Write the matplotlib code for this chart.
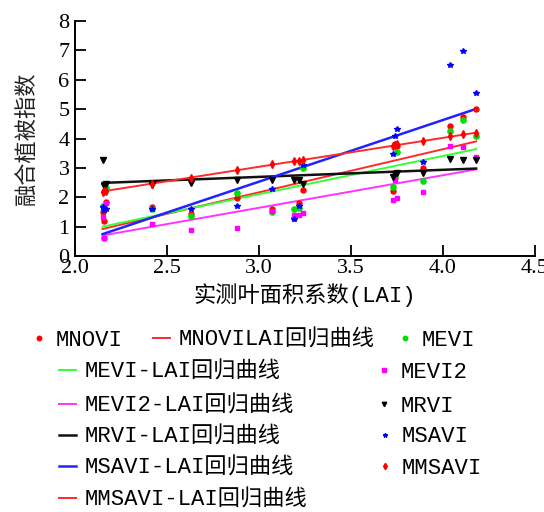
import matplotlib
matplotlib.use("Agg")
import matplotlib.pyplot as plt
from matplotlib.lines import Line2D
from matplotlib.font_manager import FontProperties
import numpy as np

# ---------------- data ----------------
LAI = [2.15, 2.16, 2.17, 2.42, 2.63, 2.88, 3.07, 3.19, 3.22, 3.24,
       3.73, 3.74, 3.75, 3.89, 4.04, 4.11, 4.18]

MNOVI  = [1.50, 1.20, 1.85, 1.68, 1.42, 1.98, 1.60, 1.30, 1.81, 2.24,
          2.20, 3.80, 3.75, 2.98, 4.43, 4.72, 5.01]
MEVI   = [1.70, 0.60, 2.30, 1.60, 1.36, 2.15, 1.50, 1.60, 1.65, 2.98,
          2.36, 2.70, 3.55, 2.55, 4.25, 4.63, 4.09]
MEVI2  = [1.32, 0.62, 1.81, 1.08, 0.88, 0.94, 1.54, 1.39, 1.39, 1.45,
          1.90, 2.59, 1.98, 2.17, 3.75, 3.70, 3.36]
MRVI   = [3.27, 2.40, 2.45, 2.41, 2.50, 2.58, 2.58, 2.60, 2.60, 2.44,
          2.70, 2.80, 2.82, 2.82, 3.30, 3.28, 3.28]
MSAVI  = [1.66, 1.55, 1.60, 1.60, 1.60, 1.71, 2.27, 1.26, 1.70, 3.10,
          3.47, 4.09, 4.32, 3.19, 6.49, 6.98, 5.55]
MMSAVI = [2.18, 2.20, 2.22, 2.45, 2.65, 2.92, 3.12, 3.22, 3.25, 3.28,
          3.75, 3.78, 3.80, 3.92, 4.08, 4.15, 4.20]

SERIES_NAMES = ["MNOVI", "MEVI", "MEVI2", "MRVI", "MSAVI", "MMSAVI"]
SERIES_VALUES = [MNOVI, MEVI, MEVI2, MRVI, MSAVI, MMSAVI]

# regression lines (slope, intercept)
FIT_SLOPE     = [1.468, 1.300, 1.108, 0.241, 2.100, 0.985]
FIT_INTERCEPT = [-2.236, -1.795, -1.683, 1.970, -3.770, 0.082]
FIT_RANGE = [2.15, 4.18]

FIT_LABELS = ["MNOVILAI回归曲线", "MEVI-LAI回归曲线", "MEVI2-LAI回归曲线",
              "MRVI-LAI回归曲线", "MSAVI-LAI回归曲线", "MMSAVI-LAI回归曲线"]

X_TICKS = [2.0, 2.5, 3.0, 3.5, 4.0, 4.5]
Y_TICKS = [0, 1, 2, 3, 4, 5, 6, 7, 8]
X_LABEL = "实测叶面积系数(LAI)"
Y_LABEL = "融合植被指数"

# ---------------- styles ----------------
COLORS = ["#ff0000", "#00e000", "#ff00ff", "#000000", "#0000ff", "#ff0000"]
LINE_COLORS = ["#ff2a2a", "#33ff33", "#ff33ff", "#111111", "#2222ff", "#ff2a2a"]
MARKERS = ["o", "o", "s", "v", "*", "d"]
MSIZES = [3.6, 3.8, 3.4, 4.2, 4.2, 4.0]
LWS = [1.4, 1.4, 1.4, 1.8, 1.8, 1.4]

mixed = ["Liberation Mono", "Noto Sans CJK SC", "DejaVu Sans"]
cjk = ["Noto Sans CJK SC", "DejaVu Sans"]
tick_fp = FontProperties(family="Liberation Serif", size=16)

W, H = 544, 512
fig = plt.figure(figsize=(W / 100, H / 100), dpi=100)
ax = fig.add_axes([75 / W, 1 - 256 / H, 460 / W, 235 / H])

fit_handles = []
pt_handles = []
xs = np.array(FIT_RANGE)
for i, name in enumerate(SERIES_NAMES):
    ln, = ax.plot(xs, FIT_SLOPE[i] * xs + FIT_INTERCEPT[i], color=LINE_COLORS[i],
                  lw=LWS[i], zorder=2)
    fit_handles.append(ln)
for i, name in enumerate(SERIES_NAMES):
    pt, = ax.plot(LAI, SERIES_VALUES[i], linestyle="none", marker=MARKERS[i],
                  ms=MSIZES[i], color=COLORS[i], mec=COLORS[i], zorder=3)
    pt_handles.append(pt)

ax.set_xlim(2.0, 4.5)
ax.set_ylim(0, 8)
ax.tick_params(direction="in", length=8, width=1.3, pad=2,
               labelsize=16, labelfontfamily="Liberation Serif")
ax.tick_params(axis="y", pad=4)
ax.set_xticks(X_TICKS)
ax.set_xticklabels([f"{v:.1f}" for v in X_TICKS], fontproperties=tick_fp)
ax.set_yticks(Y_TICKS)
ax.set_yticklabels([str(v) for v in Y_TICKS], fontproperties=tick_fp)
for s in ["top", "right"]:
    ax.spines[s].set_visible(False)
for s in ["left", "bottom"]:
    ax.spines[s].set_linewidth(1.4)

ax.set_xlabel(X_LABEL, family=mixed, fontsize=16, labelpad=4)
ax.set_ylabel(Y_LABEL, family=cjk, fontsize=16, color="#222222", labelpad=15)

# ---------------- legend entries ----------------
def add_entry(handle, label, x_px, y_px, is_marker):
    h = Line2D([], [], color=handle.get_color(), lw=handle.get_linewidth(),
               linestyle="none" if is_marker else "-",
               marker=handle.get_marker() if is_marker else None,
               ms=3.2 if is_marker else 0, mec=handle.get_color())
    leg = fig.legend(handles=[h], labels=[label], loc="center left",
                     bbox_to_anchor=(x_px / W, 1 - y_px / H),
                     frameon=False, borderpad=0, borderaxespad=0,
                     handlelength=0.78, handletextpad=0.38,
                     prop={"family": mixed, "size": 16})
    return leg

entries = [
    (pt_handles[0], "MNOVI", 30, 340, True),
    (fit_handles[0], FIT_LABELS[0], 153, 340, False),
    (pt_handles[1], "MEVI", 396, 340, True),
    (fit_handles[1], FIT_LABELS[1], 59, 372, False),
    (pt_handles[2], "MEVI2", 375, 372, True),
    (fit_handles[2], FIT_LABELS[2], 59, 406, False),
    (pt_handles[3], "MRVI", 375, 406, True),
    (fit_handles[3], FIT_LABELS[3], 59, 437, False),
    (pt_handles[4], "MSAVI", 376, 437, True),
    (fit_handles[4], FIT_LABELS[4], 59, 468, False),
    (pt_handles[5], "MMSAVI", 376, 468, True),
    (fit_handles[5], FIT_LABELS[5], 59, 500, False),
]
for e in entries:
    add_entry(*e)

fig.savefig("out.png", dpi=100)
